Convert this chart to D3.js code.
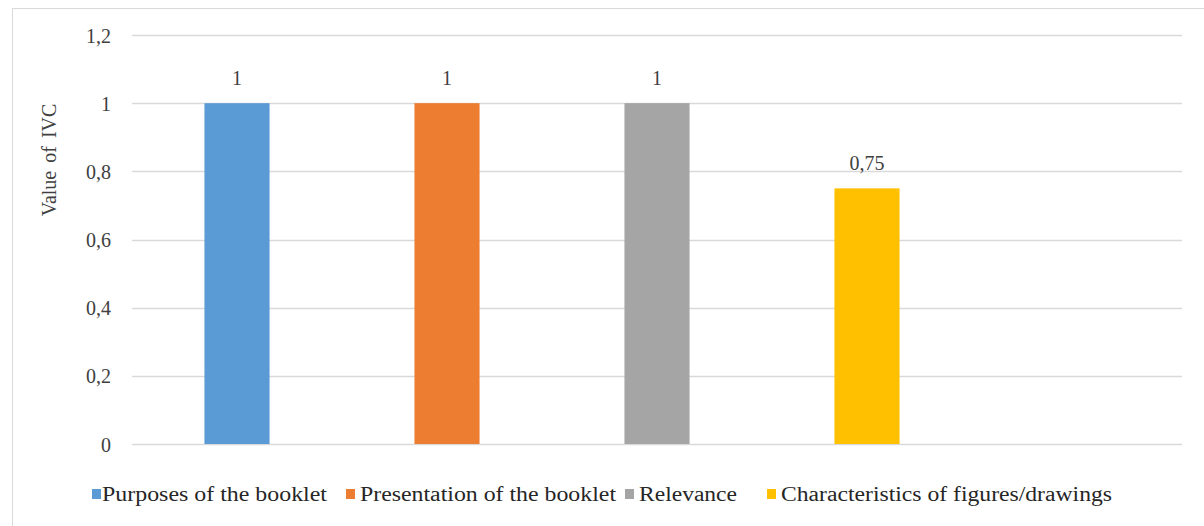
<!DOCTYPE html>
<html>
<head>
<meta charset="utf-8">
<script src="https://cdn.jsdelivr.net/npm/d3@7"></script>
<style>
  body { margin: 0; background: #fff; }
</style>
</head>
<body>
<script>
var width = 1204;
var height = 526;
var serif = "'Liberation Serif', 'DejaVu Serif', serif";

// chart values
var categories = ["Purposes of the booklet", "Presentation of the booklet", "Relevance", "Characteristics of figures/drawings"];
var values = [1, 1, 1, 0.75];
var valueLabels = ["1", "1", "1", "0,75"];
var colors = ["#5B9BD5", "#ED7D31", "#A5A5A5", "#FFC000"];
var yTicks = [0, 0.2, 0.4, 0.6, 0.8, 1, 1.2];
var yTickLabels = ["0", "0,2", "0,4", "0,6", "0,8", "1", "1,2"];
var slots = categories.concat([""]); // excel leaves an empty fifth slot

var svg = d3.select("body").append("svg")
  .attr("width", width)
  .attr("height", height)
  .style("font-family", serif);

// chart frame
svg.append("rect")
  .attr("x", 12.5).attr("y", 8.5)
  .attr("width", width + 10).attr("height", height + 10)
  .attr("fill", "none")
  .attr("stroke", "#d9d9d9");

var x = d3.scaleBand()
  .domain(slots)
  .range([132, 1182])
  .paddingInner(0.69)
  .paddingOuter(0.345);

var y = d3.scaleLinear()
  .domain([0, 1.2])
  .range([444, 35]);

// gridlines
svg.append("g")
  .selectAll("line")
  .data(yTicks)
  .enter()
  .append("line")
  .attr("x1", 132)
  .attr("x2", 1182)
  .attr("y1", function(d) { return Math.round(y(d)) + 0.5; })
  .attr("y2", function(d) { return Math.round(y(d)) + 0.5; })
  .attr("stroke", "#d9d9d9")
  .attr("stroke-width", 1.5);

// y axis labels
var yAxis = d3.axisLeft(y)
  .tickValues(yTicks)
  .tickSize(0)
  .tickPadding(0)
  .tickFormat(function(d, i) { return yTickLabels[i]; });

var yg = svg.append("g")
  .attr("transform", "translate(111,0)")
  .call(yAxis)
  .attr("font-family", serif);
yg.select(".domain").remove();
yg.selectAll("text")
  .attr("font-size", 20)
  .attr("fill", "#404040")
  .attr("dy", "0.35em");

// bars
svg.append("g")
  .selectAll("rect")
  .data(values)
  .enter()
  .append("rect")
  .attr("x", function(d, i) { return x(categories[i]); })
  .attr("y", function(d) { return y(d); })
  .attr("width", x.bandwidth())
  .attr("height", function(d) { return y(0) - y(d); })
  .attr("fill", function(d, i) { return colors[i]; });

// data labels
svg.append("g")
  .selectAll("text")
  .data(values)
  .enter()
  .append("text")
  .attr("x", function(d, i) { return x(categories[i]) + x.bandwidth() / 2; })
  .attr("y", function(d) { return y(d) - 18; })
  .attr("text-anchor", "middle")
  .attr("font-size", 20)
  .attr("fill", "#404040")
  .text(function(d, i) { return valueLabels[i]; });

// y axis title
svg.append("text")
  .attr("transform", "translate(56,160) rotate(-90)")
  .attr("text-anchor", "middle")
  .attr("font-size", 20)
  .attr("fill", "#404040")
  .attr("word-spacing", 3)
  .text("Value of IVC");

// legend: square x and text width
var legendX = [92, 346, 625, 767];
var legendW = [225, 256, 98, 331];
var legend = svg.append("g")
  .selectAll("g")
  .data(categories)
  .enter()
  .append("g")
  .attr("transform", function(d, i) { return "translate(" + legendX[i] + ",489)"; });

legend.append("rect")
  .attr("width", 9).attr("height", 10)
  .attr("fill", function(d, i) { return colors[i]; });

legend.append("text")
  .attr("x", function(d, i) { return i === 0 ? 10 : 14; })
  .attr("y", 12)
  .attr("font-size", 20)
  .attr("fill", "#262626")
  .attr("textLength", function(d, i) { return legendW[i]; })
  .attr("lengthAdjust", "spacingAndGlyphs")
  .text(function(d) { return d; });
</script>
</body>
</html>
